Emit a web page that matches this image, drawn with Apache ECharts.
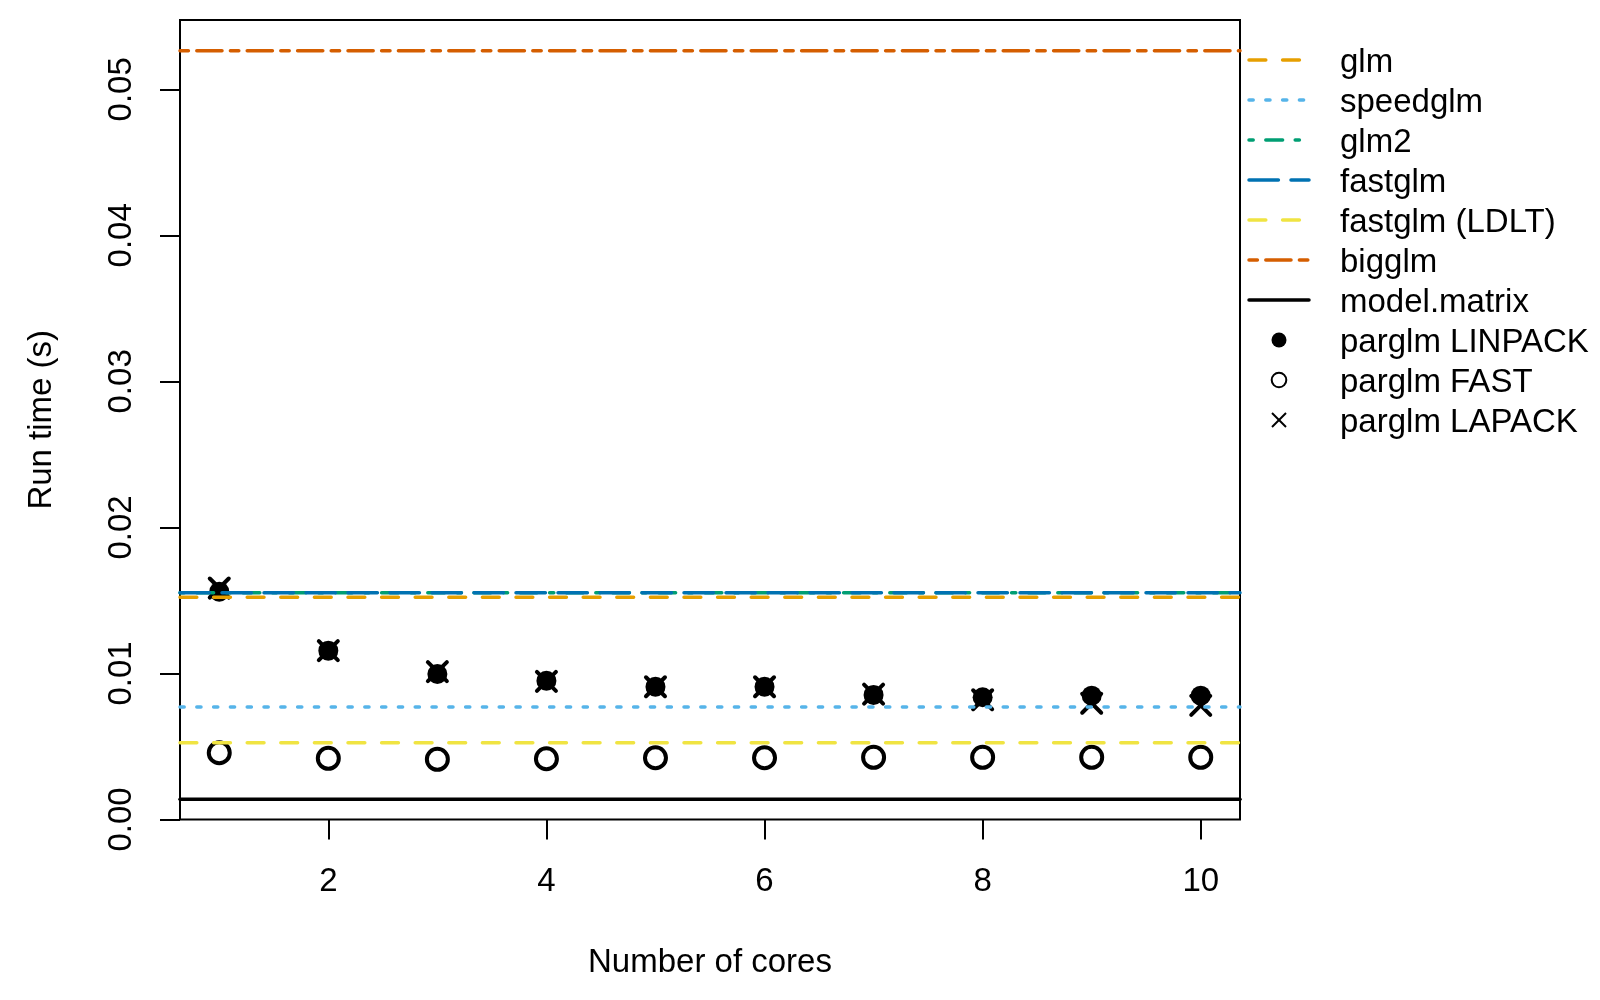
<!DOCTYPE html>
<html>
<head>
<meta charset="utf-8">
<script src="https://cdn.jsdelivr.net/npm/echarts@6/dist/echarts.min.js"></script>
<style>
html, body { margin: 0; padding: 0; background: #fff; }
#main { width: 1600px; height: 1000px; }
</style>
</head>
<body>
<div id="main"></div>
<script>
// parglm run times per number of cores
const cores = [1, 2, 3, 4, 5, 6, 7, 8, 9, 10];
const linpackTimes = [0.0156, 0.01156, 0.00996, 0.0095, 0.00909, 0.00909, 0.00853, 0.00837, 0.00848, 0.00848];
const fastTimes = [0.00457, 0.00419, 0.00412, 0.00416, 0.00423, 0.00423, 0.00426, 0.00426, 0.00426, 0.00426];
const lapackTimes = [0.01585, 0.01156, 0.01012, 0.00946, 0.00909, 0.00909, 0.00859, 0.0082, 0.00796, 0.00782];

// single-core reference methods (horizontal lines)
const refNames = ['glm', 'speedglm', 'glm2', 'fastglm', 'fastglm (LDLT)', 'bigglm', 'model.matrix'];
const refTimes = [0.01521, 0.0077, 0.01553, 0.01553, 0.00526, 0.05264, 0.00138];

const pointNames = ['parglm LINPACK', 'parglm FAST', 'parglm LAPACK'];
const xTicks = [2, 4, 6, 8, 10];
const yTicks = [0, 0.01, 0.02, 0.03, 0.04, 0.05];

// styles
const FONT = 'Liberation Sans';
const refColors = ['#E69F00', '#56B4E9', '#009E73', '#0072B2', '#F0E442', '#D55E00', '#000000'];
const u = 4.2;
const refDash = [
    [4 * u, 4 * u],
    [u, 3 * u],
    [u, 3 * u, 4 * u, 3 * u],
    [7 * u, 3 * u],
    [4 * u, 4 * u],
    [2 * u, 2 * u, 6 * u, 2 * u],
    'solid'
];

// R style axis extents: 4% padding on x, y starts at 0
const xPad = (cores[cores.length - 1] - cores[0]) * 0.04;
const xMin = cores[0] - xPad;
const xMax = cores[cores.length - 1] + xPad;
const yMax = Math.max(...refTimes) * 1.04;

let chart = echarts.init(document.getElementById('main'), null, { renderer: 'canvas' });

let series = [
    {
        name: pointNames[0],
        type: 'scatter',
        data: cores.map((c, i) => [c, linpackTimes[i]]),
        symbol: 'circle',
        symbolSize: 20,
        itemStyle: { color: '#000', opacity: 1 }
    },
    {
        name: pointNames[1],
        type: 'scatter',
        data: cores.map((c, i) => [c, fastTimes[i]]),
        symbol: 'circle',
        symbolSize: 21,
        itemStyle: { color: 'transparent', borderColor: '#000', borderWidth: 4, opacity: 1 }
    },
    {
        name: pointNames[2],
        type: 'scatter',
        data: cores.map((c, i) => [c, lapackTimes[i]]),
        symbol: 'path://M0 0L10 10M10 0L0 10',
        symbolSize: 19,
        itemStyle: { color: 'transparent', borderColor: '#000', borderWidth: 4, borderCap: 'round', opacity: 1 }
    }
];

refNames.forEach((name, i) => {
    series.push({
        name: name,
        type: 'line',
        data: [[xMin, refTimes[i]], [xMax, refTimes[i]]],
        symbol: 'none',
        showSymbol: false,
        lineStyle: {
            color: refColors[i],
            width: 3.5,
            type: refDash[i],
            cap: 'round'
        }
    });
});

// legend drawn to the right of the plot, R style
let legendItems = [];
const legTop = 60, legStep = 40, legX1 = 1249, legX2 = 1309, legSymX = 1279, legTextX = 1340;
refNames.forEach((name, i) => {
    let y = legTop + i * legStep;
    legendItems.push({
        type: 'line',
        shape: { x1: legX1, y1: y, x2: legX2, y2: y },
        style: {
            stroke: refColors[i],
            lineWidth: 3.5,
            lineDash: refDash[i] === 'solid' ? null : refDash[i],
            lineCap: 'round'
        }
    });
});
pointNames.forEach((name, j) => {
    let y = legTop + (refNames.length + j) * legStep;
    if (j === 0) {
        legendItems.push({ type: 'circle', shape: { cx: legSymX, cy: y, r: 7.5 }, style: { fill: '#000' } });
    } else if (j === 1) {
        legendItems.push({ type: 'circle', shape: { cx: legSymX, cy: y, r: 7.3 }, style: { fill: 'none', stroke: '#000', lineWidth: 2 } });
    } else {
        legendItems.push({ type: 'line', shape: { x1: legSymX - 7, y1: y - 7, x2: legSymX + 7, y2: y + 7 }, style: { stroke: '#000', lineWidth: 2 } });
        legendItems.push({ type: 'line', shape: { x1: legSymX - 7, y1: y + 7, x2: legSymX + 7, y2: y - 7 }, style: { stroke: '#000', lineWidth: 2 } });
    }
});
refNames.concat(pointNames).forEach((name, i) => {
    legendItems.push({
        type: 'text',
        x: legTextX,
        y: legTop + i * legStep + 3,
        style: {
            text: name,
            font: '33px "' + FONT + '"',
            fill: '#000',
            verticalAlign: 'middle'
        }
    });
});

let option = {
    animation: false,
    backgroundColor: '#fff',
    textStyle: { fontFamily: FONT },
    grid: {
        left: 180,
        right: 360,
        top: 20,
        bottom: 180.5,
        show: true,
        borderColor: '#000',
        borderWidth: 2,
        backgroundColor: 'transparent'
    },
    xAxis: {
        type: 'value',
        min: xMin,
        max: xMax,
        name: 'Number of cores',
        nameLocation: 'middle',
        nameGap: 127,
        nameTextStyle: { fontSize: 33, color: '#000', fontFamily: FONT },
        axisLine: { show: false },
        splitLine: { show: false },
        axisTick: {
            show: true,
            length: 20,
            customValues: xTicks,
            lineStyle: { color: '#000', width: 2 }
        },
        axisLabel: {
            customValues: xTicks,
            margin: 46,
            fontSize: 33,
            color: '#000',
            fontFamily: FONT
        }
    },
    yAxis: {
        type: 'value',
        min: 0,
        max: yMax,
        name: 'Run time (s)',
        nameLocation: 'middle',
        nameGap: 122,
        nameTextStyle: { fontSize: 33, color: '#000', fontFamily: FONT },
        axisLine: { show: false },
        splitLine: { show: false },
        axisTick: {
            show: true,
            length: 20,
            customValues: yTicks,
            lineStyle: { color: '#000', width: 2 }
        },
        axisLabel: {
            customValues: yTicks,
            rotate: 90,
            margin: 42,
            fontSize: 33,
            color: '#000',
            fontFamily: FONT,
            formatter: function (v) {
                return v.toFixed(2);
            }
        }
    },
    graphic: legendItems,
    series: series
};
chart.setOption(option);
</script>
</body>
</html>
